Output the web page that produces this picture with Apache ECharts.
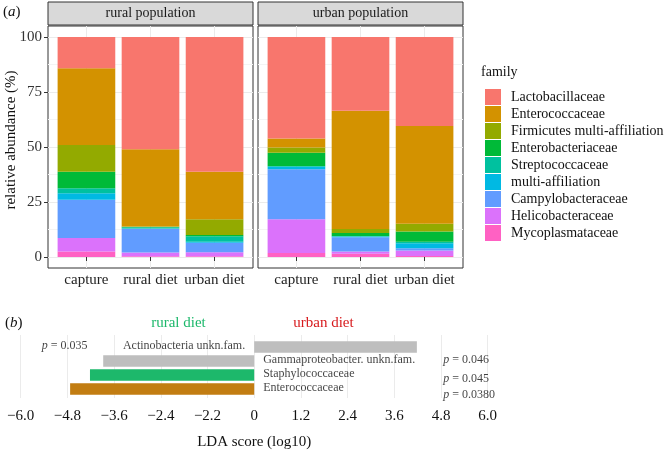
<!DOCTYPE html>
<html><head><meta charset="utf-8">
<script src="https://cdn.jsdelivr.net/npm/echarts@6/dist/echarts.min.js"></script>
<style>html,body{margin:0;padding:0;background:#fff}#c{width:668px;height:451px}</style>
</head><body><div id="c"></div>
<script>
// ---------- data: panel (a) ----------
// families listed bottom -> top of each stacked bar
const families = ['Mycoplasmataceae','Helicobacteraceae','Campylobacteraceae','multi-affiliation','Streptococcaceae','Enterobacteriaceae','Firmicutes multi-affiliation','Enterococcaceae','Lactobacillaceae'];
const familyColors = ['#FF61C3','#DB72FB','#619CFF','#00B9E3','#00C19F','#00BA38','#93AA00','#D39200','#F8766D'];
const dietCategories = ['capture','rural diet','urban diet'];
const facetNames = ['rural population','urban population'];
const yTicks = [0,25,50,75,100];
// relative abundance (%) per family, same order as `families`
const ruralCapture   = [2.5, 6.1, 17.4, 3.0, 2.3, 7.5, 12.1, 34.9, 14.2];
const ruralRuralDiet = [0.3, 1.7, 10.8, 0.2, 0.5, 0.2, 0.2, 35.1, 51.0];
const ruralUrbanDiet = [0.3, 1.9, 4.3, 0.4, 2.5, 0.6, 7.2, 21.6, 61.2];
const urbanCapture   = [1.8, 15.4, 22.7, 1.1, 0.4, 6.0, 2.4, 4.1, 46.1];
const urbanRuralDiet = [1.5, 1.0, 6.5, 0.3, 0.2, 1.4, 1.8, 53.8, 33.5];
const urbanUrbanDiet = [0.5, 2.5, 1.0, 2.3, 0.6, 4.7, 3.5, 44.4, 40.5];

// ---------- data: panel (b) ----------
const ldaTaxa = ['Actinobacteria unkn.fam.','Gammaproteobacter. unkn.fam.','Staphylococcaceae','Enterococcaceae'];
const ldaScores = [4.18, -3.88, -4.22, -4.73];
const ldaPValues = ['0.035','0.046','0.045','0.0380'];
const ldaColors = ['#BEBEBE','#BEBEBE','#1DB86B','#C27D12'];
const ldaTickLabels = ['\u22126.0','\u22124.8','\u22123.6','\u22122.4','\u22122.2','0','1.2','2.4','3.6','4.8','6.0'];

// ---------- layout ----------
const FONT = 'Liberation Serif';
const facetData = [[ruralCapture, ruralRuralDiet, ruralUrbanDiet],[urbanCapture, urbanRuralDiet, urbanUrbanDiet]];
const facetLeft = [48, 258], facetW = 205, unitPx = facetW / 3.2;
const panelTop = 26, panelH = 242, innerTop = 37, innerH = 220;

const grid = [], xAxis = [], yAxis = [], series = [], graphic = [];
facetLeft.forEach((L, f) => {
  // border grid
  grid.push({left: L, top: panelTop, width: facetW, height: panelH, show: true, borderColor: '#333', borderWidth: 1, backgroundColor: 'transparent'});
  xAxis.push({gridIndex: 3*f, type: 'value', show: false});
  yAxis.push({gridIndex: 3*f, type: 'value', show: false});
  // horizontal gridlines + y labels
  grid.push({left: L, top: innerTop, width: facetW, height: innerH});
  xAxis.push({gridIndex: 3*f+1, type: 'value', show: false});
  yAxis.push({gridIndex: 3*f+1, type: 'value', min: yTicks[0], max: yTicks[yTicks.length-1], interval: 25,
    axisLine: {show: false},
    axisTick: {show: f === 0, length: 4, lineStyle: {color: '#333'}},
    axisLabel: {show: f === 0, margin: 6, fontFamily: FONT, fontSize: 15, color: '#333'},
    splitLine: {show: true, lineStyle: {color: '#EBEBEB', width: 1}},
    minorTick: {show: false, splitNumber: 2},
    minorSplitLine: {show: true, lineStyle: {color: '#F4F4F4', width: 1}}
  });
  // bars grid (category points at ggplot positions)
  grid.push({left: L + 0.6*unitPx, top: panelTop, width: 2*unitPx, height: panelH});
  xAxis.push({gridIndex: 3*f+2, type: 'category', data: dietCategories, boundaryGap: false,
    axisLine: {show: false},
    axisTick: {show: true, length: 4, interval: 0, lineStyle: {color: '#333'}},
    axisLabel: {margin: 5, interval: 0, hideOverlap: false, fontFamily: FONT, fontSize: 15, color: '#222'},
    splitLine: {show: true, interval: 0, lineStyle: {color: '#EBEBEB', width: 1}}
  });
  yAxis.push({gridIndex: 3*f+2, type: 'value', min: -5, max: 105, show: false});
  families.forEach((fam, i) => {
    series.push({type: 'bar', name: fam, xAxisIndex: 3*f+2, yAxisIndex: 3*f+2, stack: 'facet' + f,
      barWidth: 0.9*unitPx, clip: false, itemStyle: {color: familyColors[i]},
      data: facetData[f].map(col => col[i]), animation: false});
  });
  // strip
  graphic.push({type: 'rect', shape: {x: L, y: 2, width: facetW, height: 23}, style: {fill: '#D9D9D9', stroke: '#333', lineWidth: 1}});
  graphic.push({type: 'text', x: L + facetW/2, y: 13.5, style: {text: facetNames[f], fontFamily: FONT, fontSize: 14, fill: '#1a1a1a', align: 'center', verticalAlign: 'middle'}});
});

// panel (b)
const bLeft = 20.7, bW = 467;
grid.push({left: bLeft, top: 335, width: bW, height: 63});
xAxis.push({gridIndex: 6, type: 'value', min: -6, max: 6, interval: 1.2,
  axisLine: {show: false}, axisTick: {show: false},
  axisLabel: {margin: 11, fontFamily: FONT, fontSize: 15, color: '#111', formatter: (v, idx) => ldaTickLabels[idx]},
  splitLine: {show: true, lineStyle: {color: '#EBEBEB', width: 1}},
  name: 'LDA score (log10)', nameLocation: 'middle', nameGap: 37,
  nameTextStyle: {fontFamily: FONT, fontSize: 15, color: '#111'}
});
yAxis.push({gridIndex: 6, type: 'value', show: false});
grid.push({left: bLeft, top: 340, width: bW, height: 56});
xAxis.push({gridIndex: 7, type: 'value', min: -6, max: 6, show: false});
yAxis.push({gridIndex: 7, type: 'category', data: ldaTaxa, inverse: true, show: false});
series.push({type: 'bar', name: 'LDA', xAxisIndex: 7, yAxisIndex: 7, barWidth: 11.5, animation: false,
  data: ldaScores.map((s, k) => ({value: s, itemStyle: {color: ldaColors[k]}}))});
// taxon name labels next to zero line
series.push({type: 'scatter', name: 'taxa', xAxisIndex: 7, yAxisIndex: 7, symbolSize: 0, silent: true, animation: false,
  data: ldaTaxa.map((t, k) => ({value: [0, t], label: {show: true, position: ldaScores[k] > 0 ? 'left' : 'right', distance: 9,
    offset: [0, -1], formatter: t, fontFamily: FONT, fontSize: 12, color: '#111'}}))});
// p-value labels
const pLabelX = {left: -5.46, right: 4.86};
const pLabelDy = [-1, -1, 4, 5.5];
series.push({type: 'scatter', name: 'pvals', xAxisIndex: 7, yAxisIndex: 7, symbolSize: 0, silent: true, animation: false,
  data: ldaTaxa.map((t, k) => ({value: [ldaScores[k] > 0 ? pLabelX.left : pLabelX.right, t],
    label: {show: true, position: 'right', distance: 0, offset: [0, pLabelDy[k]],
      formatter: '{i|p} = ' + ldaPValues[k], fontFamily: FONT, fontSize: 12, color: '#111',
      rich: {i: {fontStyle: 'italic', fontFamily: FONT, fontSize: 12, color: '#111'}}}}))});

// texts
graphic.push({type: 'text', x: 3, y: 12, style: {text: '({i|a})', fontFamily: FONT, fontSize: 15, fill: '#111', verticalAlign: 'middle',
  rich: {i: {fontStyle: 'italic', fontFamily: FONT, fontSize: 15, fill: '#111'}}}});
graphic.push({type: 'text', x: 5, y: 323, style: {text: '({i|b})', fontFamily: FONT, fontSize: 15, fill: '#111', verticalAlign: 'middle',
  rich: {i: {fontStyle: 'italic', fontFamily: FONT, fontSize: 15, fill: '#111'}}}});
graphic.push({type: 'text', x: 11.5, y: 140, rotation: Math.PI/2, style: {text: 'relative abundance (%)', fontFamily: FONT, fontSize: 15, fill: '#111', align: 'center', verticalAlign: 'middle'}});
graphic.push({type: 'text', x: 481, y: 72, style: {text: 'family', fontFamily: FONT, fontSize: 14, fill: '#111', verticalAlign: 'middle'}});
graphic.push({type: 'text', x: 178.5, y: 323, style: {text: 'rural diet', fontFamily: FONT, fontSize: 15, fill: '#1DB86B', align: 'center', verticalAlign: 'middle'}});
graphic.push({type: 'text', x: 323.5, y: 323, style: {text: 'urban diet', fontFamily: FONT, fontSize: 15, fill: '#D7191C', align: 'center', verticalAlign: 'middle'}});

const chart = echarts.init(document.getElementById('c'), null, {renderer: 'canvas'});
chart.setOption({
  animation: false,
  backgroundColor: '#fff',
  grid, xAxis, yAxis, series, graphic,
  legend: {orient: 'vertical', left: 480, top: 84, itemWidth: 16, itemHeight: 16, itemGap: 1, icon: 'rect',
    data: families.slice().reverse(), selectedMode: false,
    textStyle: {fontFamily: FONT, fontSize: 14, color: '#111', lineHeight: 16, padding: [0, 0, 0, 5]}},
  tooltip: {show: false}
});
</script></body></html>
